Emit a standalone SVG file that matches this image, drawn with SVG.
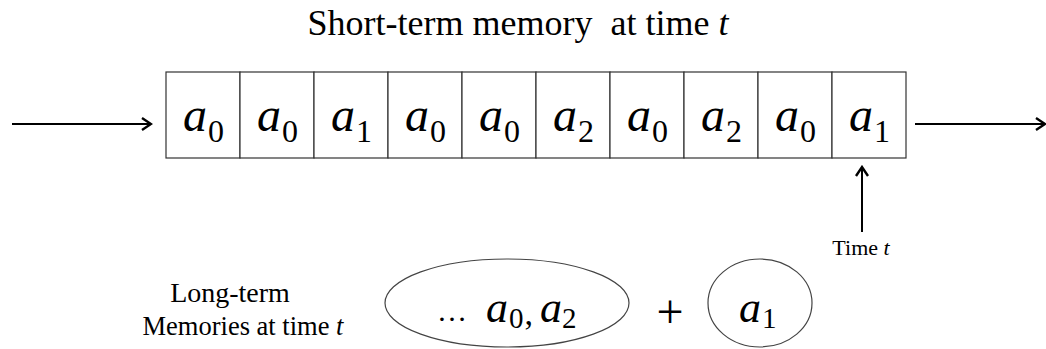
<svg xmlns="http://www.w3.org/2000/svg" width="1046" height="349" viewBox="0 0 1046 349">
<style>
.t{font-family:"Liberation Serif","Times New Roman",serif;fill:#000}
.big{font-size:48px;font-style:italic}
.sub{font-size:32px}
.cell{fill:#fff;stroke:#333;stroke-width:1.2}
.conn{stroke:#000;stroke-width:2;fill:none}
.oval{fill:#fff;stroke:#444;stroke-width:1.2}
</style>
<defs>
<marker id="ah" markerWidth="12" markerHeight="14" refX="10" refY="7" orient="auto" markerUnits="userSpaceOnUse">
<polyline points="1,1 10,7 1,13" fill="none" stroke="#000" stroke-width="2.4"/>
</marker>
</defs>
<text class="t" x="518" y="35" font-size="36" text-anchor="middle" xml:space="preserve">Short-term memory  at time <tspan font-style="italic">t</tspan></text>
<g id="connectors">
<line class="conn" x1="12" y1="124" x2="151" y2="124" marker-end="url(#ah)"/>
<line class="conn" x1="915" y1="124" x2="1045" y2="124" marker-end="url(#ah)"/>
<line class="conn" x1="862" y1="232" x2="862" y2="167" marker-end="url(#ah)"/>
</g>
<g id="memory">
<g id="cell0"><rect class="cell" x="166" y="72" width="74" height="86"/><text class="t big" x="183" y="131">a</text><text class="t sub" x="208" y="142">0</text></g>
<g id="cell1"><rect class="cell" x="240" y="72" width="74" height="86"/><text class="t big" x="257" y="131">a</text><text class="t sub" x="282" y="142">0</text></g>
<g id="cell2"><rect class="cell" x="314" y="72" width="74" height="86"/><text class="t big" x="331" y="131">a</text><text class="t sub" x="356" y="142">1</text></g>
<g id="cell3"><rect class="cell" x="388" y="72" width="74" height="86"/><text class="t big" x="405" y="131">a</text><text class="t sub" x="430" y="142">0</text></g>
<g id="cell4"><rect class="cell" x="462" y="72" width="74" height="86"/><text class="t big" x="479" y="131">a</text><text class="t sub" x="504" y="142">0</text></g>
<g id="cell5"><rect class="cell" x="536" y="72" width="74" height="86"/><text class="t big" x="553" y="131">a</text><text class="t sub" x="578" y="142">2</text></g>
<g id="cell6"><rect class="cell" x="610" y="72" width="74" height="86"/><text class="t big" x="627" y="131">a</text><text class="t sub" x="652" y="142">0</text></g>
<g id="cell7"><rect class="cell" x="684" y="72" width="74" height="86"/><text class="t big" x="701" y="131">a</text><text class="t sub" x="726" y="142">2</text></g>
<g id="cell8"><rect class="cell" x="758" y="72" width="74" height="86"/><text class="t big" x="775" y="131">a</text><text class="t sub" x="800" y="142">0</text></g>
<g id="cell9"><rect class="cell" x="832" y="72" width="74" height="86"/><text class="t big" x="849" y="131">a</text><text class="t sub" x="874" y="142">1</text></g>
</g>
<g id="time-label"><text class="t" x="861" y="255" font-size="22" text-anchor="middle">Time <tspan font-style="italic">t</tspan></text></g>
<g id="lt-label">
<text class="t" x="230" y="302" font-size="28" text-anchor="middle">Long-term</text>
<text class="t" x="243" y="335" font-size="26.5" text-anchor="middle">Memories at time <tspan font-style="italic">t</tspan></text>
</g>
<g id="longterm">
<ellipse class="oval" cx="507" cy="303" rx="122" ry="44"/>
<text class="t" x="437" y="321" font-size="30">…</text>
<text class="t" x="486" y="322" font-size="44" font-style="italic">a</text>
<text class="t" x="509" y="328" font-size="29">0<tspan font-size="34" dx="1" dy="-3">,</tspan></text>
<text class="t" x="540" y="322" font-size="44" font-style="italic">a</text>
<text class="t" x="562" y="328" font-size="29">2</text>
</g>
<text class="t" x="670" y="328" font-size="48" text-anchor="middle">+</text>
<g id="current">
<ellipse class="oval" cx="760" cy="303" rx="52" ry="44"/>
<text class="t" x="739" y="322" font-size="44" font-style="italic">a</text>
<text class="t" x="762" y="328" font-size="29">1</text>
</g>
</svg>
